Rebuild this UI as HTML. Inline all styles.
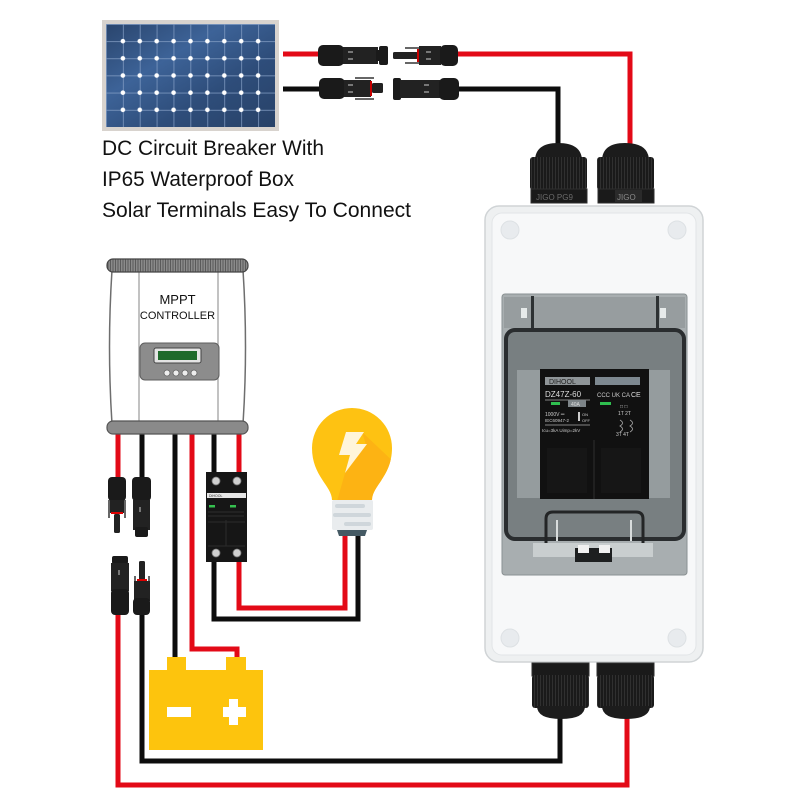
<!DOCTYPE html>
<html><head><meta charset="utf-8"><style>
html,body{margin:0;padding:0;background:#fff;}
svg{display:block;}
</style></head><body>
<svg width="800" height="800" viewBox="0 0 800 800" xmlns="http://www.w3.org/2000/svg" font-family="'Liberation Sans', sans-serif">
<defs>
<linearGradient id="pv" x1="0" y1="0" x2="1" y2="1">
<stop offset="0" stop-color="#2a456d"/><stop offset="0.35" stop-color="#3d6398"/><stop offset="0.65" stop-color="#2e4d7a"/><stop offset="1" stop-color="#284268"/>
</linearGradient>
<pattern id="grid" x="106" y="24" width="16.9" height="17.17" patternUnits="userSpaceOnUse">
<path d="M0,0 V17.17 M0,0 H16.9" stroke="#86a0c6" stroke-width="1.4" fill="none"/>
</pattern>
<pattern id="dots" x="114.45" y="32.6" width="16.9" height="17.17" patternUnits="userSpaceOnUse">
<circle cx="8.45" cy="8.585" r="2.3" fill="#fff"/>
</pattern>
<pattern id="rib" x="0" y="0" width="3" height="10" patternUnits="userSpaceOnUse">
<rect width="3" height="10" fill="#1a1a1a"/><rect width="1" height="10" fill="#303030"/>
</pattern>
<pattern id="rib2" x="0" y="0" width="2.5" height="10" patternUnits="userSpaceOnUse">
<rect width="2.5" height="10" fill="#8a8a8a"/><rect width="1" height="10" fill="#5a5a5a"/>
</pattern>
<clipPath id="bulbclip"><path d="M332,500 C332,486 312,476 312,448 A40,40 0 0 1 392,448 C392,476 372,486 372,500 Z"/></clipPath>
</defs>

<!-- Solar panel -->
<rect x="102" y="20" width="177" height="111" fill="#d8d3ce"/>
<rect x="106" y="24" width="169" height="103" fill="url(#pv)"/>
<rect x="106" y="24" width="169" height="103" fill="url(#grid)"/>
<rect x="114.45" y="32.6" width="152.1" height="85.85" fill="url(#dots)"/>

<!-- Top wires -->
<g fill="none" stroke-width="5" stroke-linejoin="miter">
<path d="M283,54 H322" stroke="#e30a17"/>
<path d="M455,54 H630 V150" stroke="#e30a17"/>
<path d="M283,89 H322" stroke="#0d0d0d"/>
<path d="M455,89 H558 V150" stroke="#0d0d0d"/>
</g>

<!-- Top MC4 connectors -->
<g>
<rect x="318" y="45" width="26" height="21" rx="5" fill="#1a1a1a"/>
<rect x="343" y="47" width="35" height="17" fill="#222"/>
<rect x="376" y="50" width="4" height="11" fill="#1a1a1a"/>
<rect x="379" y="46" width="9" height="19" rx="2" fill="#1a1a1a"/>
<rect x="348" y="51" width="5" height="2" fill="#777"/><rect x="348" y="58" width="5" height="2" fill="#777"/>
<rect x="393" y="52" width="25" height="7" rx="1.5" fill="#222"/>
<path d="M405,48 H420 M405,63 H420" stroke="#333" stroke-width="1.5"/>
<rect x="417" y="49" width="2" height="13" fill="#c80000"/>
<rect x="419" y="46" width="22" height="19" fill="#222"/>
<rect x="440" y="45" width="18" height="21" rx="5" fill="#1a1a1a"/>
<rect x="426" y="51" width="5" height="2" fill="#777"/><rect x="426" y="58" width="5" height="2" fill="#777"/>
<rect x="319" y="78" width="26" height="21" rx="5" fill="#1a1a1a"/>
<rect x="344" y="80" width="27" height="17" fill="#222"/>
<path d="M355,78 H374 M355,99 H374" stroke="#333" stroke-width="1.5"/>
<rect x="370" y="81" width="2" height="15" fill="#c80000"/>
<rect x="372" y="83" width="11" height="10" rx="1.5" fill="#222"/>
<rect x="348" y="84" width="5" height="2" fill="#777"/><rect x="348" y="91" width="5" height="2" fill="#777"/>
<rect x="393" y="78" width="8" height="22" rx="2" fill="#1a1a1a"/>
<rect x="400" y="80" width="40" height="18" fill="#222"/>
<rect x="439" y="78" width="20" height="22" rx="5" fill="#1a1a1a"/>
<rect x="424" y="84" width="5" height="2" fill="#777"/><rect x="424" y="91" width="5" height="2" fill="#777"/>
</g>

<!-- Text -->
<g font-size="21" fill="#111">
<text x="102" y="155" textLength="222" lengthAdjust="spacingAndGlyphs">DC Circuit Breaker With</text>
<text x="102" y="186" textLength="192" lengthAdjust="spacingAndGlyphs">IP65 Waterproof Box</text>
<text x="102" y="217" textLength="309" lengthAdjust="spacingAndGlyphs">Solar Terminals Easy To Connect</text>
</g>

<!-- Lower wires -->
<g fill="none" stroke-width="5" stroke-linejoin="miter">
<path d="M118,430 V478" stroke="#e30a17"/>
<path d="M118,612 V785 H627 V714" stroke="#e30a17"/>
<path d="M142,430 V478" stroke="#0d0d0d"/>
<path d="M142,612 V761 H560 V714" stroke="#0d0d0d"/>
<path d="M175,430 V660" stroke="#0d0d0d"/>
<path d="M192,430 V649 H237 V660" stroke="#e30a17"/>
<path d="M214,430 V476" stroke="#0d0d0d"/>
<path d="M214,558 V619 H358 V532" stroke="#0d0d0d"/>
<path d="M239,430 V476" stroke="#e30a17"/>
<path d="M239,558 V608 H345 V532" stroke="#e30a17"/>
</g>

<!-- MPPT controller -->
<g>
<path d="M112,270 Q107,347 112,424 H243 Q248,347 243,270 Z" fill="#fff" stroke="#6e6e6e" stroke-width="1.5"/>
<path d="M139,272 V423 M218,272 V423" stroke="#9a9a9a" stroke-width="1.2"/>
<rect x="107" y="259" width="141" height="13" rx="6" fill="url(#rib2)" stroke="#444" stroke-width="1.2"/>
<rect x="107" y="421" width="141" height="13" rx="6" fill="#8a8a8a" stroke="#555" stroke-width="1.2"/>
<text x="177.5" y="304" font-size="13" text-anchor="middle" fill="#111">MPPT</text>
<text x="177.5" y="319" font-size="11" text-anchor="middle" fill="#111">CONTROLLER</text>
<rect x="140" y="343" width="79" height="37" rx="5" fill="#8c8c8c" stroke="#5e5e5e"/>
<rect x="154" y="348" width="47" height="15" rx="2" fill="#e4e4e4" stroke="#444"/>
<rect x="158" y="351" width="39" height="9" fill="#1f6a2b"/>
<g fill="#eee" stroke="#666" stroke-width="0.8">
<circle cx="167" cy="373" r="3"/><circle cx="176" cy="373" r="3"/><circle cx="185" cy="373" r="3"/><circle cx="194" cy="373" r="3"/>
</g>
</g>

<!-- Left vertical MC4 connectors -->
<g>
<rect x="108" y="477" width="18" height="24" rx="4" fill="#1a1a1a"/>
<rect x="110" y="500" width="14" height="13" fill="#222"/>
<path d="M109,500 V518 M125,500 V518" stroke="#333" stroke-width="1.5"/>
<rect x="111" y="512" width="12" height="2" fill="#d00"/>
<rect x="114" y="514" width="6" height="19" rx="1.5" fill="#222"/>
<rect x="132" y="477" width="19" height="24" rx="4" fill="#1a1a1a"/>
<rect x="133" y="500" width="17" height="30" fill="#222"/>
<rect x="135" y="527" width="13" height="10" rx="2" fill="#1a1a1a"/>
<rect x="139" y="507" width="2" height="5" fill="#777"/>
<rect x="112" y="556" width="16" height="8" rx="2" fill="#1a1a1a"/>
<rect x="111" y="563" width="18" height="28" fill="#222"/>
<rect x="111" y="589" width="18" height="26" rx="4" fill="#1a1a1a"/>
<rect x="118" y="570" width="2" height="5" fill="#777"/>
<rect x="139" y="561" width="6" height="19" rx="1.5" fill="#222"/>
<path d="M135,576 V598 M149,576 V598" stroke="#333" stroke-width="1.5"/>
<rect x="137" y="579" width="10" height="2" fill="#d00"/>
<rect x="134" y="581" width="16" height="20" fill="#222"/>
<rect x="133" y="598" width="17" height="17" rx="4" fill="#1a1a1a"/>
</g>

<!-- Small DC breaker -->
<g>
<rect x="206" y="472" width="41" height="90" fill="#161616"/>
<g fill="#d0d0d0" stroke="#777" stroke-width="0.8">
<circle cx="216" cy="481" r="4"/><circle cx="237" cy="481" r="4"/>
<circle cx="216" cy="553" r="4"/><circle cx="237" cy="553" r="4"/>
</g>
<rect x="207" y="493" width="39" height="5" fill="#e6e6e6"/>
<text x="209" y="497" font-size="3.5" fill="#333">DIHOOL</text>
<rect x="209" y="505" width="6" height="2.5" fill="#35c04f"/>
<rect x="230" y="505" width="6" height="2.5" fill="#35c04f"/>
<path d="M208,512 H244 M208,516 H244" stroke="#444" stroke-width="0.6"/>
<path d="M226,520 V546 M208,522 H245 M208,546 H245" stroke="#2c2c2c" stroke-width="1"/>
</g>

<!-- Bulb -->
<g>
<path d="M332,500 C332,486 312,476 312,448 A40,40 0 0 1 392,448 C392,476 372,486 372,500 Z" fill="#fec212"/>
<g clip-path="url(#bulbclip)">
<polygon points="362,432 398,466 398,505 336,505 345,473 366,445" fill="#fdb313"/>
</g>
<polygon points="346,432 364,432 356,444 367,444 345,473 350,455 339,455" fill="#fff5da"/>
<rect x="332" y="500" width="41" height="30" rx="2" fill="#e9ecee"/>
<rect x="335" y="504" width="30" height="4" rx="2" fill="#cfd6db"/>
<rect x="333" y="513" width="38" height="4" rx="2" fill="#cfd6db"/>
<rect x="344" y="522" width="27" height="4" rx="2" fill="#cfd6db"/>
<path d="M337,530 H367 L365,536 H339 Z" fill="#455a64"/>
</g>

<!-- Battery -->
<g fill="#fdc40d">
<rect x="167" y="657" width="19" height="14"/>
<rect x="226" y="657" width="20" height="14"/>
<rect x="149" y="670" width="114" height="80"/>
</g>
<g fill="#fff">
<rect x="167" y="707" width="24" height="10"/>
<rect x="223" y="707" width="23" height="10"/>
<rect x="229" y="699" width="9" height="26"/>
</g>

<!-- Breaker box -->
<g>
<rect x="485" y="206" width="218" height="456" rx="14" fill="#eef0f1" stroke="#d0d4d6" stroke-width="1.5"/>
<rect x="492" y="213" width="204" height="442" rx="10" fill="#f7f8f9" stroke="#e2e5e7"/>
<g fill="#e8ebee" stroke="#dde1e4">
<circle cx="510" cy="230" r="9"/><circle cx="677" cy="230" r="9"/>
<circle cx="510" cy="638" r="9"/><circle cx="677" cy="638" r="9"/>
</g>
<rect x="502" y="294" width="185" height="281" rx="3" fill="#a8aeb0" stroke="#8a9193"/>
<rect x="504" y="297" width="181" height="31" fill="#979d9f"/>
<rect x="531" y="296" width="3" height="32" fill="#2d3133"/>
<rect x="656" y="296" width="3" height="32" fill="#2d3133"/>
<rect x="521" y="308" width="6" height="10" fill="#e6eaea"/>
<rect x="660" y="308" width="6" height="10" fill="#e6eaea"/>
<rect x="506" y="330" width="178" height="209" rx="9" fill="#787f81" stroke="#2a2d2f" stroke-width="4"/>
<rect x="517" y="370" width="23" height="128" fill="#959c9e"/>
<rect x="649" y="370" width="21" height="128" fill="#959c9e"/>
<rect x="540" y="369" width="109" height="130" fill="#111"/>
<rect x="545" y="377" width="45" height="8" fill="#8f9598"/>
<text x="549" y="384" font-size="7" fill="#222">DIHOOL</text>
<rect x="595" y="377" width="45" height="8" fill="#7d8890"/>
<text x="545" y="397" font-size="8" fill="#ddd">DZ47Z-60</text>
<path d="M545,400 H590" stroke="#aaa" stroke-width="0.8"/>
<text x="597" y="397" font-size="6" fill="#ccc">CCC UK CA</text>
<text x="631" y="397" font-size="7" fill="#ddd">CE</text>
<rect x="551" y="402" width="9" height="3" fill="#2fbf4f"/>
<rect x="568" y="400" width="18" height="7" fill="#7d8488"/>
<text x="571" y="406" font-size="5" fill="#ddd">40A</text>
<rect x="600" y="402" width="11" height="3" fill="#2fbf4f"/>
<text x="620" y="408" font-size="5" fill="#ccc">□ □</text>
<text x="545" y="416" font-size="5" fill="#ccc">1000V ═</text>
<text x="545" y="422" font-size="4.5" fill="#ccc">IEC60947-2</text>
<rect x="578" y="412" width="2" height="9" fill="#ccc"/>
<text x="582" y="416" font-size="4" fill="#ccc">ON</text>
<text x="582" y="422" font-size="4" fill="#ccc">OFF</text>
<text x="618" y="415" font-size="5" fill="#ccc">1T 2T</text>
<path d="M545,425 H590" stroke="#aaa" stroke-width="0.8"/>
<text x="542" y="432" font-size="4.5" fill="#ccc">Icu=3kA  Uimp=2kV</text>
<path d="M620,420 q5,3 0,6 q5,3 0,6 M630,420 q5,3 0,6 q5,3 0,6" stroke="#aaa" stroke-width="0.8" fill="none"/>
<text x="616" y="436" font-size="5" fill="#ccc">3T 4T</text>
<path d="M594,440 V499" stroke="#262626" stroke-width="1.5"/>
<rect x="547" y="448" width="40" height="45" fill="#161616"/>
<rect x="601" y="448" width="40" height="45" fill="#161616"/>
<rect x="533" y="543" width="120" height="14" fill="#c9cecf"/>
<path d="M546,543 V519 Q546,512 553,512 H636 Q643,512 643,519 V543" fill="none" stroke="#232526" stroke-width="3"/>
<path d="M557,520 V541 M631,520 V541" stroke="#d8dcdc" stroke-width="2"/>
<rect x="575" y="548" width="37" height="14" fill="#1d1f20"/>
<rect x="578" y="545" width="11" height="8" fill="#f0f0f0"/>
<rect x="599" y="545" width="11" height="8" fill="#f0f0f0"/>
</g>

<!-- Top glands -->
<g>
<path d="M535,161 Q535,143 558,143 Q582,143 582,161 Z" fill="#1c1c1c"/>
<rect x="530" y="157" width="57" height="33" rx="3" fill="url(#rib)"/>
<rect x="531" y="189" width="56" height="14" fill="#1a1a1a" stroke="#2e2e2e"/>
<text x="536" y="200" font-size="8" fill="#6a6a6a">JIGO PG9</text>
<path d="M602,161 Q602,143 625,143 Q649,143 649,161 Z" fill="#1c1c1c"/>
<rect x="597" y="157" width="57" height="33" rx="3" fill="url(#rib)"/>
<rect x="598" y="189" width="56" height="14" fill="#1a1a1a" stroke="#2e2e2e"/>
<rect x="615" y="190" width="27" height="12" fill="#2a2a2a"/>
<text x="617" y="200" font-size="8" fill="#8a8a8a">JIGO</text>
</g>

<!-- Bottom glands -->
<g>
<rect x="532" y="663" width="57" height="13" fill="#1a1a1a" stroke="#2e2e2e"/>
<rect x="532" y="675" width="57" height="33" rx="3" fill="url(#rib)"/>
<path d="M537,706 Q537,719 561,719 Q585,719 585,706 Z" fill="#1c1c1c"/>
<rect x="597" y="663" width="57" height="13" fill="#1a1a1a" stroke="#2e2e2e"/>
<rect x="597" y="675" width="57" height="33" rx="3" fill="url(#rib)"/>
<path d="M602,706 Q602,719 626,719 Q650,719 650,706 Z" fill="#1c1c1c"/>
</g>
</svg>
</body></html>
